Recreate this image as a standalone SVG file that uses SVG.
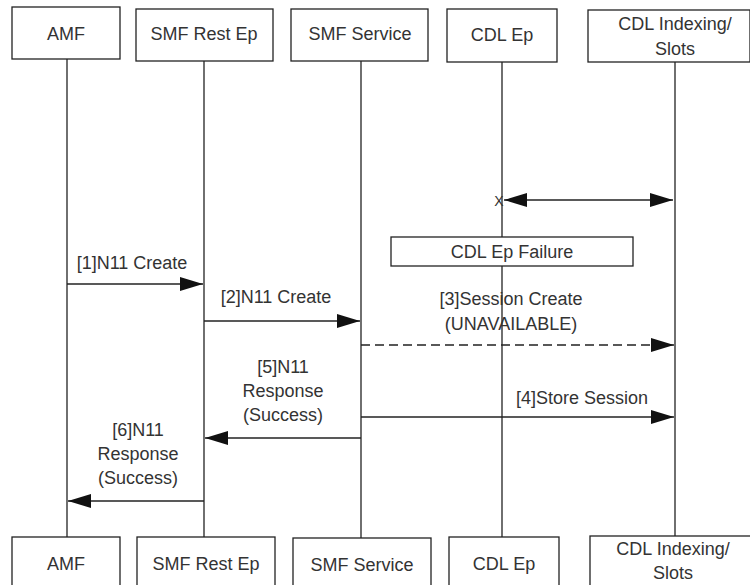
<svg xmlns="http://www.w3.org/2000/svg" width="750" height="585" viewBox="0 0 750 585">
<style>
text{font-family:"Liberation Sans",Arial,sans-serif;font-size:18px;fill:#333;text-anchor:middle}
.box{fill:#fff;stroke:#222;stroke-width:1.3}
.life{stroke:#222;stroke-width:1.3;fill:none}
.msg{stroke:#222;stroke-width:1.3;fill:none}
.dash{stroke-dasharray:9,5}
</style>
<defs>
<marker id="ah" viewBox="0 0 23 14" refX="23" refY="7" markerWidth="23" markerHeight="14" markerUnits="userSpaceOnUse" orient="auto-start-reverse">
<path d="M0,0 L23,7 L0,14 Z" fill="#111"/>
</marker>
</defs>
<rect width="750" height="585" fill="#fff"/>
<g id="lifelines">
<line class="life" x1="67" y1="59" x2="67" y2="537"/>
<line class="life" x1="204" y1="61" x2="204" y2="537"/>
<line class="life" x1="361" y1="61" x2="361" y2="538"/>
<line class="life" x1="502" y1="62" x2="502" y2="537"/>
<line class="life" x1="675" y1="62" x2="675" y2="536"/>
</g>
<g id="connectors">
<line class="msg" x1="504" y1="200" x2="673" y2="200" marker-start="url(#ah)" marker-end="url(#ah)"/>
<line class="msg" x1="67" y1="284" x2="203" y2="284" marker-end="url(#ah)"/>
<line class="msg" x1="204" y1="321" x2="360" y2="321" marker-end="url(#ah)"/>
<line class="msg dash" x1="361" y1="345" x2="674" y2="345" marker-end="url(#ah)"/>
<line class="msg" x1="361" y1="417" x2="674" y2="417" marker-end="url(#ah)"/>
<line class="msg" x1="361" y1="438" x2="205" y2="438" marker-end="url(#ah)"/>
<line class="msg" x1="204" y1="501" x2="68" y2="501" marker-end="url(#ah)"/>
</g>
<g id="labels">
<text x="499" y="206" style="font-size:14px">X</text>
<text x="132" y="269">[1]N11 Create</text>
<text x="276" y="303">[2]N11 Create</text>
<text x="511" y="305">[3]Session Create</text>
<text x="511" y="330">(UNAVAILABLE)</text>
<text x="582" y="404">[4]Store Session</text>
<text x="283" y="373">[5]N11</text>
<text x="283" y="397">Response</text>
<text x="283" y="421">(Success)</text>
<text x="138" y="436">[6]N11</text>
<text x="138" y="460">Response</text>
<text x="138" y="484">(Success)</text>
</g>
<g id="failure">
<rect class="box" x="391" y="237" width="242" height="29"/>
<text x="512" y="258">CDL Ep Failure</text>
</g>
<g id="amf-top"><rect class="box" x="12" y="7" width="108" height="52"/><text x="66" y="40">AMF</text></g>
<g id="smfrest-top"><rect class="box" x="136" y="9" width="137" height="52"/><text x="204" y="40">SMF Rest Ep</text></g>
<g id="smfsvc-top"><rect class="box" x="291" y="9" width="137" height="52"/><text x="360" y="40">SMF Service</text></g>
<g id="cdlep-top"><rect class="box" x="447" y="9" width="110" height="53"/><text x="502" y="41">CDL Ep</text></g>
<g id="cdlidx-top"><rect class="box" x="588" y="10" width="162" height="52"/><text x="675" y="30">CDL Indexing/</text><text x="675" y="55">Slots</text></g>
<g id="amf-bot"><rect class="box" x="12" y="537" width="108" height="60"/><text x="66" y="570">AMF</text></g>
<g id="smfrest-bot"><rect class="box" x="137" y="537" width="138" height="60"/><text x="206" y="570">SMF Rest Ep</text></g>
<g id="smfsvc-bot"><rect class="box" x="293" y="538" width="138" height="60"/><text x="362" y="571">SMF Service</text></g>
<g id="cdlep-bot"><rect class="box" x="449" y="537" width="110" height="60"/><text x="504" y="570">CDL Ep</text></g>
<g id="cdlidx-bot"><rect class="box" x="590" y="536" width="162" height="60"/><text x="673" y="555">CDL Indexing/</text><text x="673" y="579">Slots</text></g>
</svg>
